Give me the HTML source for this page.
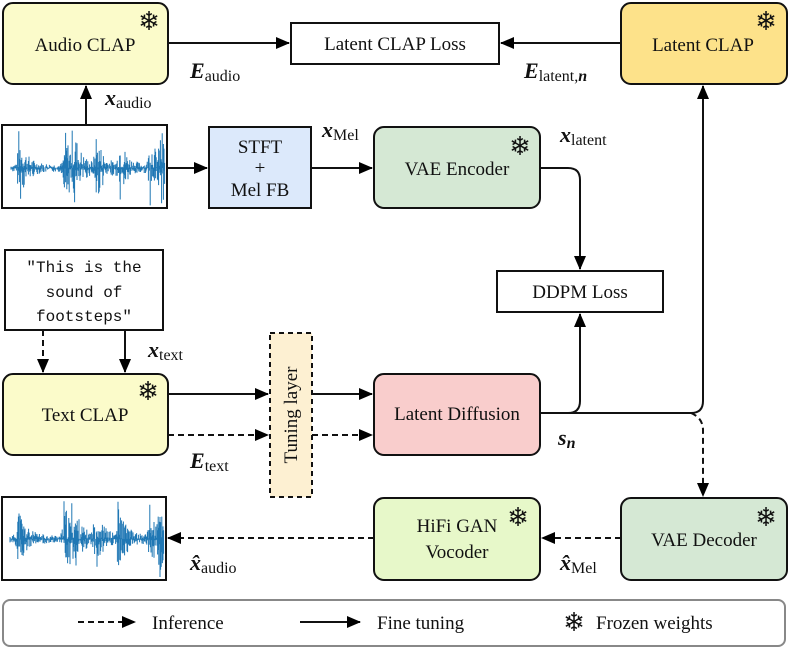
<!DOCTYPE html>
<html><head><meta charset="utf-8"><style>
html,body{margin:0;padding:0;background:#fff;}
svg{display:block}
text{font-family:"Liberation Serif",serif;fill:#111}
.l{font-size:19px}
.m{font-style:italic;font-weight:bold;font-size:22px}
.s{font-size:16px;font-style:normal;font-weight:normal}
.sf{font-family:"DejaVu Sans",sans-serif;font-size:26px}
.mono{font-family:"Liberation Mono",monospace;font-size:16px}
</style></head><body>
<svg width="789" height="652" viewBox="0 0 789 652" xmlns="http://www.w3.org/2000/svg">
<defs>
<marker id="a" markerWidth="14" markerHeight="14" refX="13" refY="6" orient="auto" markerUnits="userSpaceOnUse"><path d="M0,0 L14,6 L0,12 z" fill="#000"/></marker>
</defs>
<g stroke="#111" stroke-width="2">
<rect x="3" y="3" width="165" height="81" rx="10" fill="#fbfbca"/>
<rect x="291" y="23" width="208" height="41" fill="#fff"/>
<rect x="621" y="3" width="166" height="81" rx="10" fill="#fde28a"/>
<rect x="2" y="125" width="165" height="83" fill="#fff"/>
<rect x="209" y="127" width="102" height="81" fill="#dce9fb"/>
<rect x="374" y="127" width="166" height="81" rx="10" fill="#d5e8d4"/>
<rect x="497" y="271" width="166" height="41" fill="#fff"/>
<rect x="5" y="250" width="158" height="80" fill="#fff"/>
<rect x="3" y="374" width="165" height="81" rx="10" fill="#fbfbca"/>
<rect x="270" y="333" width="42" height="164" fill="#fdf0d2" stroke-dasharray="5,4"/>
<rect x="374" y="374" width="166" height="81" rx="10" fill="#f9cdcc"/>
<rect x="621" y="498" width="166" height="82" rx="10" fill="#d5e8d4"/>
<rect x="374" y="498" width="166" height="82" rx="10" fill="#e7f8c9"/>
<rect x="2" y="497" width="164" height="83" fill="#fff"/>
<rect x="3" y="600" width="782" height="46" rx="7" fill="#fff" stroke="#888"/>
</g>
<g fill="none" stroke="#111" stroke-width="2">
<path d="M168,43 H289" marker-end="url(#a)"/>
<path d="M621,43 H501" marker-end="url(#a)"/>
<path d="M86,125 V86" marker-end="url(#a)"/>
<path d="M167,168 H207" marker-end="url(#a)"/>
<path d="M311,168 H372" marker-end="url(#a)"/>
<path d="M540,168 H568 Q580,168 580,180 V269" marker-end="url(#a)"/>
<path d="M540,413 H568 Q580,413 580,401 V314" marker-end="url(#a)"/>
<path d="M540,413 H691 Q703,413 703,401 V86" marker-end="url(#a)"/>
<path d="M691,413 Q703,418 703,430 V496" stroke-dasharray="6,4" marker-end="url(#a)"/>
<path d="M43,330 V372" stroke-dasharray="6,4" marker-end="url(#a)"/>
<path d="M125,330 V372" marker-end="url(#a)"/>
<path d="M168,394 H268" marker-end="url(#a)"/>
<path d="M168,435 H268" stroke-dasharray="6,4" marker-end="url(#a)"/>
<path d="M312,394 H372" marker-end="url(#a)"/>
<path d="M312,435 H372" stroke-dasharray="6,4" marker-end="url(#a)"/>
<path d="M621,538 H542" stroke-dasharray="6,4" marker-end="url(#a)"/>
<path d="M374,538 H168" stroke-dasharray="6,4" marker-end="url(#a)"/>
<path d="M78,622 H135" stroke-dasharray="6,4" marker-end="url(#a)"/>
<path d="M300,622 H360" marker-end="url(#a)"/>
</g>
<g stroke="#1f77b4" stroke-width="1" fill="none"><path id="wp"/></g>
<g stroke="#1f77b4" stroke-width="1" fill="none"><path id="wp2"/></g>
<g class="l" text-anchor="middle">
<text x="85" y="51">Audio CLAP</text>
<text x="395" y="50">Latent CLAP Loss</text>
<text x="703" y="51">Latent CLAP</text>
<text x="260" y="153">STFT</text>
<text x="260" y="174">+</text>
<text x="260" y="196">Mel FB</text>
<text x="457" y="175">VAE Encoder</text>
<text x="580" y="298">DDPM Loss</text>
<text x="85" y="421">Text CLAP</text>
<text x="457" y="420">Latent Diffusion</text>
<text x="704" y="546">VAE Decoder</text>
<text x="457" y="532">HiFi GAN</text>
<text x="457" y="558">Vocoder</text>
<text transform="translate(297,415) rotate(-90)">Tuning layer</text>
</g>
<g class="mono" text-anchor="middle">
<text class="mono" x="84" y="272">"This is the</text>
<text class="mono" x="84" y="297">sound of</text>
<text class="mono" x="84" y="321">footsteps"</text>
</g>
<g class="l">
<text x="152" y="629">Inference</text>
<text x="377" y="629">Fine tuning</text>
<text x="596" y="629">Frozen weights</text>
</g>
<g class="sf" text-anchor="middle">
<text x="149" y="30">❄</text>
<text x="766" y="30">❄</text>
<text x="520" y="155">❄</text>
<text x="148" y="400">❄</text>
<text x="518" y="526">❄</text>
<text x="766" y="526">❄</text>
<text x="574" y="631">❄</text>
</g>
<g class="m">
<text x="190" y="78">E<tspan class="s" dy="3">audio</tspan></text>
<text x="524" y="78">E<tspan class="s" dy="3">latent,</tspan><tspan style="font-size:16px">n</tspan></text>
<text x="105" y="105">x<tspan class="s" dy="3">audio</tspan></text>
<text x="322" y="137">x<tspan class="s" dy="3">Mel</tspan></text>
<text x="560" y="142">x<tspan class="s" dy="3">latent</tspan></text>
<text x="148" y="357">x<tspan class="s" dy="3">text</tspan></text>
<text x="190" y="468">E<tspan class="s" dy="3">text</tspan></text>
<text x="558" y="445">s<tspan style="font-size:16px" dy="3">n</tspan></text>
<text x="190" y="570">x̂<tspan class="s" dy="3">audio</tspan></text>
<text x="560" y="570">x̂<tspan class="s" dy="3">Mel</tspan></text>
</g>
</svg>
<script>
function wave(id,x0,x1,cy,h,seed){var s=seed,d="";function r(){s=(s*9301+49297)%233280;return s/233280;}
var bursts=[0.05,0.35,0.4,0.55,0.7,0.9,0.97];
for(var x=x0;x<=x1;x+=0.6){var t=(x-x0)/(x1-x0),a=0.1;
bursts.forEach(function(b){var dd=t-b;if(dd>=0)a+=0.9*Math.exp(-dd*22);else a+=0.9*Math.exp(dd*150);});
a=Math.min(a,1);var k=Math.pow(r(),1.6);var y1=cy-h*a*k,y2=cy+h*a*Math.pow(r(),1.6);d+="M"+x.toFixed(1)+","+y1.toFixed(1)+"V"+y2.toFixed(1);}
document.getElementById(id).setAttribute("d",d);}
wave("wp",11,165,168,40,7);wave("wp2",10,164,539,40,11);
</script>
</body></html>
